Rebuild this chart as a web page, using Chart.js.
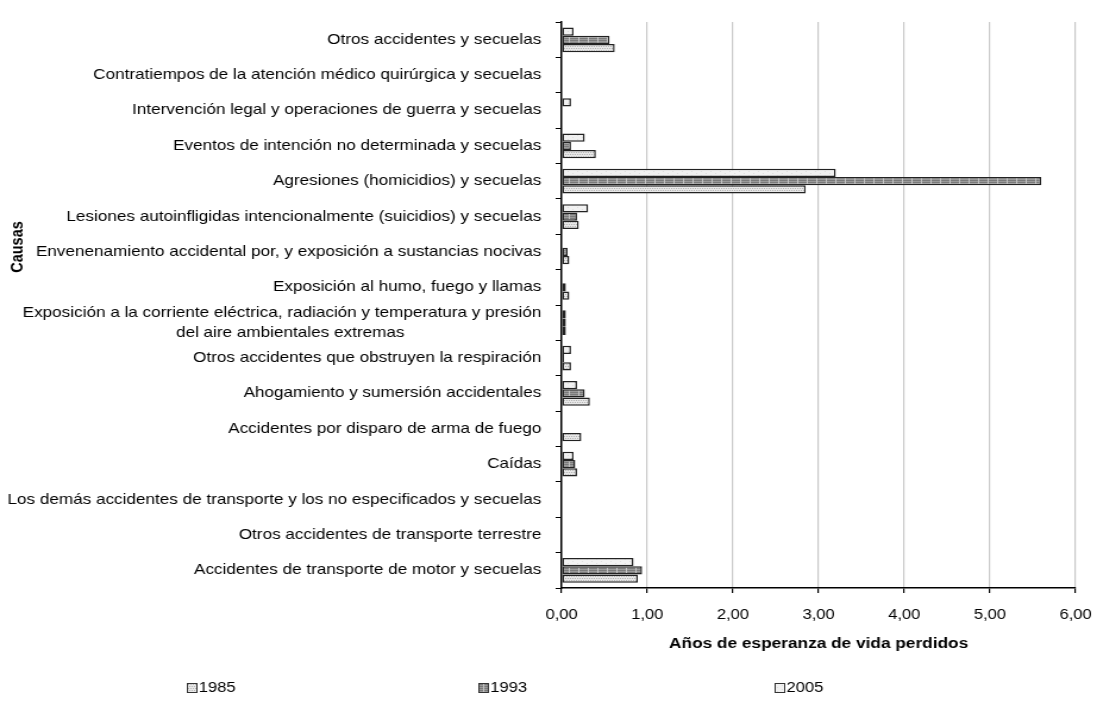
<!DOCTYPE html>
<html>
<head>
<meta charset="utf-8">
<script src="https://cdn.jsdelivr.net/npm/chart.js@4/dist/chart.umd.min.js"></script>
<style>
  html, body { margin: 0; padding: 0; background: #fff; overflow: hidden; }
</style>
</head>
<body>
<!-- canvas drawn narrower, then stretched to the window width like the original picture -->
<canvas id="chart" width="922" height="705" style="display:block;width:1097px;height:705px"></canvas>
<script>
// Data (top to bottom)
const categories = [
    'Otros accidentes y secuelas',
    'Contratiempos de la atención médico quirúrgica y secuelas',
    'Intervención legal y operaciones de guerra y secuelas',
    'Eventos de intención no determinada y secuelas',
    'Agresiones (homicidios) y secuelas',
    'Lesiones autoinfligidas intencionalmente (suicidios) y secuelas',
    'Envenenamiento accidental por, y exposición a sustancias nocivas',
    'Exposición al humo, fuego y llamas',
    ['Exposición a la corriente eléctrica, radiación y temperatura y presión',
     'del aire ambientales extremas' + '\u2003'.repeat(8)],
    'Otros accidentes que obstruyen la respiración',
    'Ahogamiento y sumersión accidentales',
    'Accidentes por disparo de arma de fuego',
    'Caídas',
    'Los demás accidentes de transporte y los no especificados y secuelas',
    'Otros accidentes de transporte terrestre',
    'Accidentes de transporte de motor y secuelas'
];
const years = ['1985', '1993', '2005'];
const values1985 = [0.62, null, null, 0.40, 2.85, 0.20, 0.09, 0.09, 0.05, 0.11, 0.33, 0.23, 0.18, null, null, 0.89];
const values1993 = [0.56, null, null, 0.11, 5.60, 0.18, 0.07, 0.05, 0.05, 0.03, 0.27, null, 0.16, null, null, 0.94];
const values2005 = [0.14, null, 0.11, 0.27, 3.20, 0.31, null, null, 0.05, 0.11, 0.18, null, 0.14, null, null, 0.84];
const xTickLabels = ['0,00', '1,00', '2,00', '3,00', '4,00', '5,00', '6,00'];
const xTitle = 'Años de esperanza de vida perdidos';
const yTitle = 'Causas';

const FONT = '"Liberation Sans", Arial, sans-serif';

// Small canvas patterns like the Excel fills
function makePattern(kind) {
    const c = document.createElement('canvas');
    c.width = 8; c.height = 4;
    const p = c.getContext('2d');
    if (kind === 'dots') {          // 1985
        p.fillStyle = '#e8e8e8'; p.fillRect(0, 0, 8, 4);
        p.fillStyle = '#b4b4b4';
        for (let x = 0; x < 8; x += 2) for (let y = 0; y < 4; y += 2) p.fillRect(x + (y % 4 ? 1 : 0), y, 1, 1);
    } else if (kind === 'grid') {   // 1993
        p.fillStyle = '#9a9a9a'; p.fillRect(0, 0, 8, 4);
        p.fillStyle = '#7a7a7a'; p.fillRect(0, 0, 8, 1); p.fillRect(0, 2, 8, 1);
        p.fillStyle = '#c4c4c4'; p.fillRect(6, 0, 1, 4);
    } else {                        // 2005
        p.fillStyle = '#f1f1f1'; p.fillRect(0, 0, 8, 4);
        p.fillStyle = '#dedede'; p.fillRect(1, 1, 1, 1); p.fillRect(5, 3, 1, 1);
    }
    return p.createPattern(c, 'repeat');
}
const fills = { '1985': makePattern('dots'), '1993': makePattern('grid'), '2005': makePattern('light') };

// Legend drawn at the bottom, spread out as in the original
const legendPlugin = {
    id: 'spreadLegend',
    afterDraw(chart) {
        const ctx = chart.ctx;
        const starts = [157, 402, 651];
        const y = 688;
        ctx.save();
        ctx.font = '14px ' + FONT;
        ctx.textBaseline = 'middle';
        years.forEach((yr, i) => {
            ctx.fillStyle = fills[yr];
            ctx.fillRect(starts[i], y - 5, 8, 9);
            ctx.strokeStyle = '#333';
            ctx.lineWidth = 1;
            ctx.strokeRect(starts[i] + 0.5, y - 4.5, 8, 9);
            ctx.fillStyle = '#000';
            ctx.fillText(yr, starts[i] + 10, y);
        });
        ctx.restore();
    }
};

// "Causas" sits higher than the axis centre in the original
const yTitlePlugin = {
    id: 'yTitle',
    afterDraw(chart) {
        const ctx = chart.ctx;
        ctx.save();
        ctx.translate(15, 247);
        ctx.rotate(-Math.PI / 2);
        ctx.font = 'bold 14.5px ' + FONT;
        ctx.textAlign = 'center';
        ctx.textBaseline = 'middle';
        ctx.fillStyle = '#000';
        ctx.fillText(yTitle, 0, 0);
        ctx.restore();
    }
};

const series = [
    { year: '2005', data: values2005 },
    { year: '1993', data: values1993 },
    { year: '1985', data: values1985 }
];

new Chart(document.getElementById('chart'), {
    type: 'bar',
    data: {
        labels: categories,
        datasets: series.map(s => ({
            label: s.year,
            data: s.data,
            backgroundColor: fills[s.year],
            borderColor: '#222',
            borderWidth: 1.5,
            borderSkipped: false,
            categoryPercentage: 0.7,
            barPercentage: 1.0
        }))
    },
    options: {
        indexAxis: 'y',
        responsive: false,
        animation: false,
        layout: { padding: { top: 15, right: 18, bottom: 42, left: 0 } },
        plugins: {
            legend: { display: false },
            tooltip: { enabled: false }
        },
        scales: {
            x: {
                min: 0,
                max: 6,
                ticks: {
                    stepSize: 1,
                    color: '#000',
                    padding: 14,
                    minRotation: 0,
                    maxRotation: 0,
                    font: { family: FONT, size: 14 },
                    callback: (v, i) => xTickLabels[i]
                },
                grid: { color: '#c8c8c8', lineWidth: 1.2, tickColor: '#000', tickLength: 5 },
                border: { color: '#000', width: 1.5 },
                title: {
                    display: true,
                    text: xTitle,
                    color: '#000',
                    font: { family: FONT, size: 14.5, weight: 'bold' },
                    padding: { top: 0, bottom: 10 }
                },
                afterFit: s => { s.height = 75; s.paddingLeft = 0; s.paddingRight = 0; }
            },
            y: {
                ticks: {
                    color: '#000',
                    padding: 12,
                    autoSkip: false,
                    font: { family: FONT, size: 14.4, lineHeight: 1.4 }
                },
                grid: { drawOnChartArea: false, tickColor: '#000', tickLength: 5 },
                border: { color: '#000', width: 1.5 },
                afterFit: s => { s.width = 472; }
            }
        }
    },
    plugins: [legendPlugin, yTitlePlugin]
});
</script>
</body>
</html>
